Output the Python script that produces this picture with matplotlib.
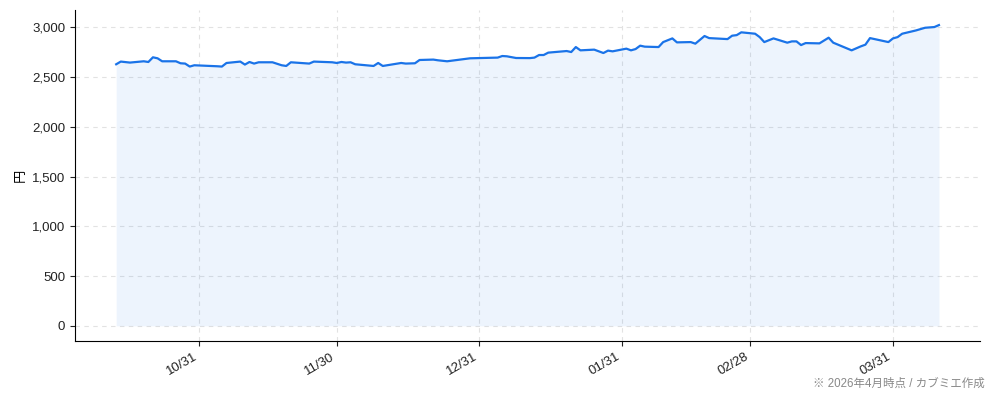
import numpy as np
import pandas as pd
import matplotlib
matplotlib.use("Agg")
import matplotlib.pyplot as plt
import matplotlib.dates as mdates
from matplotlib.ticker import FuncFormatter

plt.rcParams['font.family'] = ['Liberation Sans', 'Noto Sans CJK JP', 'DejaVu Sans']

# daily close
dates = [
    "2025-10-13", "2025-10-14", "2025-10-16", "2025-10-19", "2025-10-20",
    "2025-10-21", "2025-10-22", "2025-10-23", "2025-10-26", "2025-10-27",
    "2025-10-28", "2025-10-29", "2025-10-30", "2025-11-04", "2025-11-05",
    "2025-11-06", "2025-11-09", "2025-11-10", "2025-11-11", "2025-11-12",
    "2025-11-13", "2025-11-16", "2025-11-18", "2025-11-19", "2025-11-20",
    "2025-11-24", "2025-11-25", "2025-11-29", "2025-11-30", "2025-12-01",
    "2025-12-02", "2025-12-03", "2025-12-04", "2025-12-08", "2025-12-09",
    "2025-12-10", "2025-12-14", "2025-12-15", "2025-12-17", "2025-12-18",
    "2025-12-21", "2025-12-22", "2025-12-24", "2025-12-29", "2026-01-04",
    "2026-01-05", "2026-01-06", "2026-01-08", "2026-01-11", "2026-01-12",
    "2026-01-13", "2026-01-14", "2026-01-15", "2026-01-19", "2026-01-20",
    "2026-01-21", "2026-01-22", "2026-01-25", "2026-01-27", "2026-01-28",
    "2026-01-29", "2026-02-01", "2026-02-02", "2026-02-03", "2026-02-04",
    "2026-02-05", "2026-02-08", "2026-02-09", "2026-02-11", "2026-02-12",
    "2026-02-15", "2026-02-16", "2026-02-18", "2026-02-19", "2026-02-23",
    "2026-02-24", "2026-02-25", "2026-02-26", "2026-03-01", "2026-03-02",
    "2026-03-03", "2026-03-05", "2026-03-08", "2026-03-09", "2026-03-10",
    "2026-03-11", "2026-03-12", "2026-03-15", "2026-03-17", "2026-03-18",
    "2026-03-22", "2026-03-24", "2026-03-25", "2026-03-26", "2026-03-30",
    "2026-03-31", "2026-04-01", "2026-04-02", "2026-04-05", "2026-04-07",
    "2026-04-09", "2026-04-10",
]
prices = [
    2628, 2655, 2645, 2658, 2651,
    2698, 2688, 2658, 2658, 2638,
    2635, 2605, 2618, 2608, 2605,
    2641, 2655, 2625, 2651, 2635,
    2648, 2648, 2618, 2611, 2648,
    2635, 2655, 2648, 2641, 2651,
    2645, 2648, 2628, 2611, 2641,
    2611, 2641, 2635, 2638, 2671,
    2675, 2668, 2658, 2688, 2695,
    2711, 2708, 2691, 2690, 2695,
    2721, 2721, 2745, 2761, 2751,
    2801, 2768, 2775, 2741, 2765,
    2758, 2785, 2768, 2781, 2815,
    2805, 2801, 2851, 2888, 2848,
    2851, 2835, 2912, 2891, 2881,
    2915, 2921, 2949, 2935, 2901,
    2851, 2888, 2845, 2858, 2858,
    2821, 2841, 2838, 2895, 2845,
    2768, 2808, 2825, 2891, 2851,
    2888, 2901, 2935, 2968, 2995,
    3002, 3022,
]
tick_dates = ["2025-10-31", "2025-11-30", "2025-12-31", "2026-01-31", "2026-02-28", "2026-03-31"]
note = "※ 2026年4月時点 / カブミエ作成"

x = pd.to_datetime(dates)
line_color = "#1a73e8"

fig, ax = plt.subplots(figsize=(9.94, 4.01), dpi=100)
fig.subplots_adjust(left=0.0755, right=0.986, top=0.975, bottom=0.15)

ax.fill_between(x, prices, 0, color=line_color, alpha=0.08, linewidth=0)
ax.plot(x, prices, color=line_color, linewidth=1.6)

ax.set_xticks(pd.to_datetime(tick_dates))
ax.xaxis.set_major_formatter(mdates.DateFormatter("%m/%d"))
plt.setp(ax.get_xticklabels(), rotation=30, ha="right")
ax.yaxis.set_major_formatter(FuncFormatter(lambda v, p: "{:,.0f}".format(v)))
ax.set_yticks([0, 500, 1000, 1500, 2000, 2500, 3000])
ax.tick_params(labelsize=9.5, colors="#222222")
ax.set_ylabel("円", fontsize=9.5)

ax.grid(True, linestyle=(0, (4, 4)), color="#e2e2e2", linewidth=0.8)
ax.set_axisbelow(True)
ax.spines["top"].set_visible(False)
ax.spines["right"].set_visible(False)

fig.text(0.991, 0.028, note, ha="right", va="bottom", fontsize=8.3, color="#888888")

fig.savefig("out.png", dpi=100)
